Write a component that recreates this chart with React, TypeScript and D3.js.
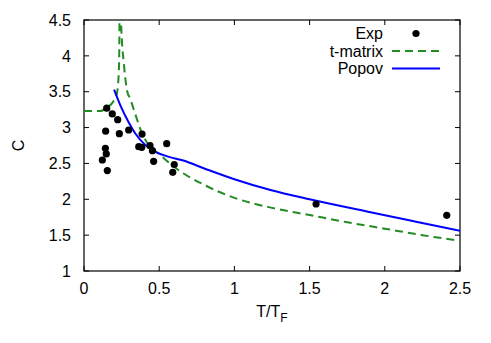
import * as d3 from 'd3';

const expT = [0.151, 0.188, 0.224, 0.144, 0.235, 0.297, 0.386, 0.364, 0.384, 0.439, 0.455, 0.55, 0.142, 0.148, 0.122, 0.463, 0.6, 0.59, 0.155, 1.543, 2.412];
const expC = [3.27, 3.19, 3.11, 2.95, 2.915, 2.966, 2.91, 2.733, 2.725, 2.747, 2.678, 2.775, 2.711, 2.632, 2.548, 2.53, 2.485, 2.376, 2.4, 1.934, 1.777];

const tmatT = [0, 0.06, 0.11, 0.144, 0.2, 0.221, 0.233, 0.24, 0.246, 0.266, 0.288, 0.306, 0.339, 0.38, 0.428, 0.5, 0.6, 0.8, 1.0, 1.25, 1.5, 1.75, 2.0, 2.25, 2.5];
const tmatC = [3.23, 3.23, 3.23, 3.27, 3.38, 3.5, 3.87, 5.2, 4.5, 3.87, 3.5, 3.41, 3.2, 2.95, 2.76, 2.63, 2.45, 2.2, 2.02, 1.88, 1.78, 1.68, 1.59, 1.5, 1.42];

const popovT = [0.2, 0.25, 0.295, 0.34, 0.406, 0.472, 0.56, 0.66, 0.8, 1.0, 1.24, 1.5, 1.88, 2.2, 2.5];
const popovC = [3.53, 3.27, 3.08, 2.92, 2.76, 2.665, 2.595, 2.54, 2.43, 2.28, 2.13, 2.0, 1.83, 1.69, 1.56];

const xTicks = [0, 0.5, 1, 1.5, 2, 2.5];
const yTicks = [1, 1.5, 2, 2.5, 3, 3.5, 4, 4.5];

const W = 491;
const H = 343;
const M = { left: 84, right: 31, top: 20, bottom: 72 };
const FONT = '"Liberation Sans", Arial, sans-serif';
const GREEN = '#228B22';
const BLUE = '#0000FF';

export default function App() {
  const x = d3.scaleLinear().domain([0, 2.5]).range([M.left, W - M.right]);
  const y = d3.scaleLinear().domain([1, 4.5]).range([H - M.bottom, M.top]);
  const [x0, x1] = x.range();
  const [y0, y1] = y.range();
  const tick = 5;

  const line = d3.line<[number, number]>()
    .x(d => x(d[0]))
    .y(d => y(d[1]))
    .curve(d3.curveMonotoneX);

  const tmat = line(tmatT.map((t, i) => [t, tmatC[i]]));
  const popov = line(popovT.map((t, i) => [t, popovC[i]]));

  const legX = 383;
  const legRows = [33.5, 51, 68.5];

  return (
    <svg width={W} height={H} style={{ position: 'absolute', left: 0, top: 0, background: '#fff' }} fontFamily={FONT}>
      <defs>
        <clipPath id="plot">
          <rect x={x0} y={y1} width={x1 - x0} height={y0 - y1} />
        </clipPath>
      </defs>

      {/* ticks, mirrored on all sides */}
      {xTicks.map(t => (
        <g key={'x' + t}>
          <line x1={x(t)} x2={x(t)} y1={y0} y2={y0 - tick} stroke="#000" />
          <line x1={x(t)} x2={x(t)} y1={y1} y2={y1 + tick} stroke="#000" />
          <text x={x(t)} y={294} fontSize={16} textAnchor="middle">{t}</text>
        </g>
      ))}
      {yTicks.map(t => (
        <g key={'y' + t}>
          <line x1={x0} x2={x0 + tick} y1={y(t)} y2={y(t)} stroke="#000" />
          <line x1={x1} x2={x1 - tick} y1={y(t)} y2={y(t)} stroke="#000" />
          <text x={71} y={y(t)} dy="0.36em" fontSize={16} textAnchor="end">{t}</text>
        </g>
      ))}

      <rect x={x0} y={y1} width={x1 - x0} height={y0 - y1} fill="none" stroke="#000" strokeWidth={1.2} />

      {/* curves */}
      <g clipPath="url(#plot)">
        <path d={tmat ?? ''} fill="none" stroke={GREEN} strokeWidth={2} strokeDasharray="8,5" />
        <path d={popov ?? ''} fill="none" stroke={BLUE} strokeWidth={2} />
      </g>

      {expT.map((t, i) => (
        <circle key={'e' + i} cx={x(t)} cy={y(expC[i])} r={3.6} fill="#000" />
      ))}

      {/* legend */}
      <text x={legX} y={legRows[0]} dy="0.36em" fontSize={16} textAnchor="end">Exp</text>
      <circle cx={416} cy={legRows[0]} r={3.6} fill="#000" />
      <text x={legX} y={legRows[1]} dy="0.36em" fontSize={16} textAnchor="end">t-matrix</text>
      <line x1={392} x2={440} y1={legRows[1]} y2={legRows[1]} stroke={GREEN} strokeWidth={2} strokeDasharray="8,5" />
      <text x={legX} y={legRows[2]} dy="0.36em" fontSize={16} textAnchor="end">Popov</text>
      <line x1={392} x2={440} y1={legRows[2]} y2={legRows[2]} stroke={BLUE} strokeWidth={2} />

      {/* axis labels */}
      <text x={(x0 + x1) / 2} y={317} fontSize={16} textAnchor="middle">
        T/T<tspan fontSize={12} dy={5}>F</tspan>
      </text>
      <text transform={`translate(24, ${(y0 + y1) / 2}) rotate(-90)`} fontSize={16} textAnchor="middle">C</text>
    </svg>
  );
}
